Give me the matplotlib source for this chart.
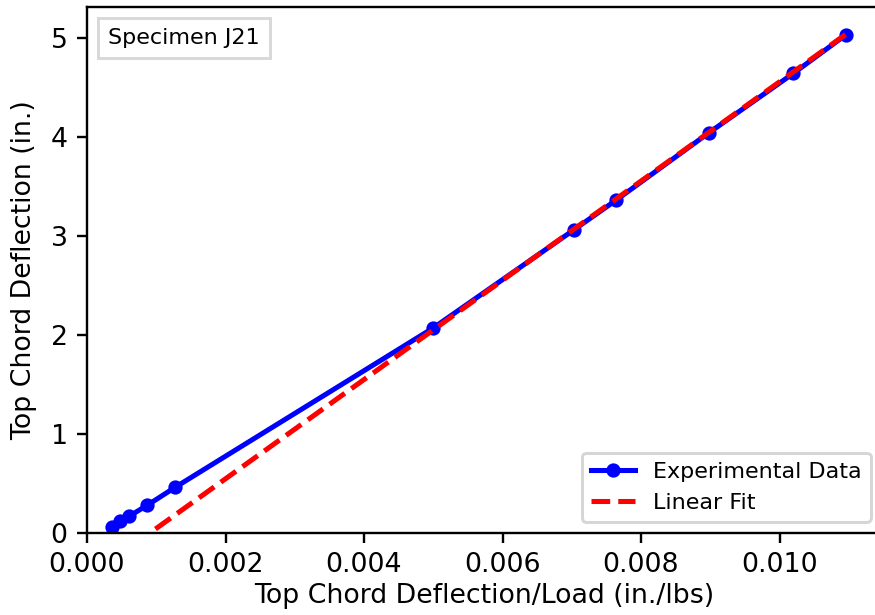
import numpy as np
import matplotlib
matplotlib.use('Agg')
import matplotlib.pyplot as plt
from matplotlib.offsetbox import AnchoredText

# Datos
deflection_per_load = [0.00036, 0.00048, 0.00061, 0.00087, 0.00127,
                       0.00500, 0.00703, 0.00764, 0.00898, 0.01020, 0.01096]
deflection = [0.06, 0.12, 0.17, 0.28, 0.46,
              2.07, 3.06, 3.36, 4.04, 4.64, 5.03]

fit_slope = 501.0
fit_intercept = -0.455

x_fit = np.array([deflection_per_load[0], deflection_per_load[-1]])
y_fit = fit_slope * x_fit + fit_intercept

plt.rcParams['font.size'] = 9

DPI = 214
fig = plt.figure(figsize=(875 / DPI, 615 / DPI), dpi=DPI)
# el eje derecho queda recortado fuera de la imagen, como en el original
ax = fig.add_axes([87 / 875, 1 - 533 / 615, 795 / 875, 526 / 615])

ax.plot(deflection_per_load, deflection, color='blue', marker='o',
        markersize=3.8, linewidth=1.7, label='Experimental Data')
ax.plot(x_fit, y_fit, color='red', linestyle='--', linewidth=1.7,
        label='Linear Fit')

ax.set_xlim(0, 0.01148)
ax.set_ylim(0, 5.31)
ax.set_xticks([0.000, 0.002, 0.004, 0.006, 0.008, 0.010])
ax.set_xticklabels(['0.000', '0.002', '0.004', '0.006', '0.008', '0.010'])
ax.tick_params(pad=3)
ax.set_xlabel('Top Chord Deflection/Load (in./lbs)', labelpad=1.5)
ax.set_ylabel('Top Chord Deflection (in.)', labelpad=4.5)

ax.legend(loc='lower right', fontsize='small')

at = AnchoredText('Specimen J21', loc='upper left', prop=dict(size=7.5),
                  pad=0.45, borderpad=0.5, frameon=True)
at.patch.set_boxstyle('square,pad=0')
at.patch.set_edgecolor('0.85')
ax.add_artist(at)

fig.savefig('out.png', dpi=DPI)
